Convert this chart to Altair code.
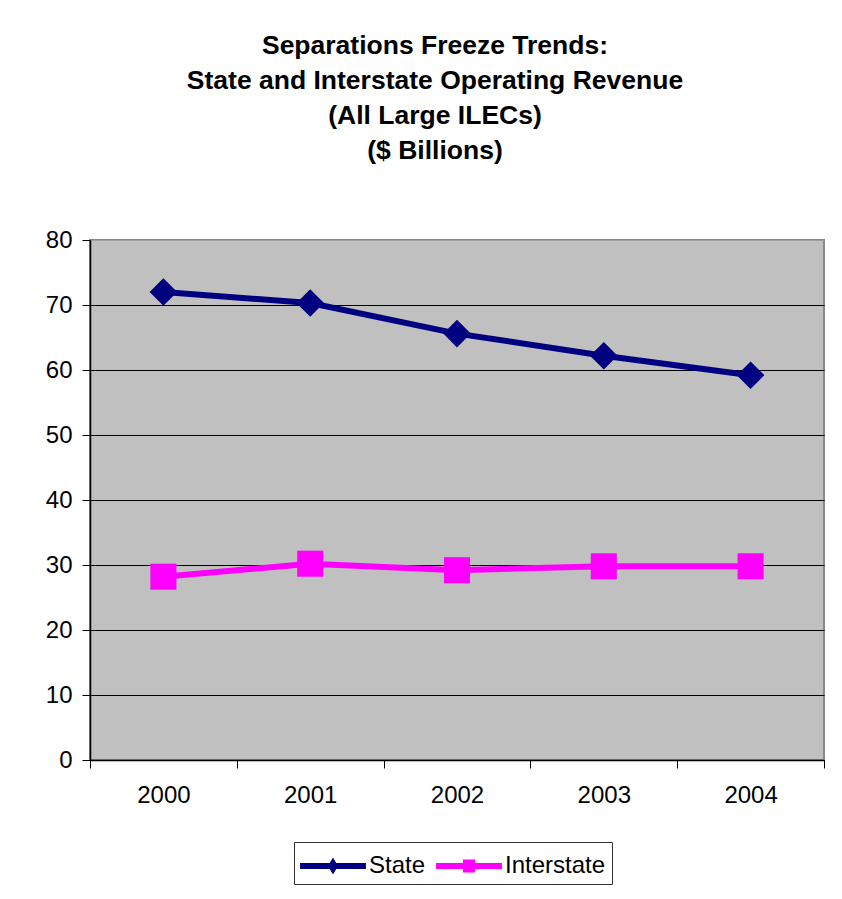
import altair as alt
import pandas as pd

years = ["2000", "2001", "2002", "2003", "2004"]
state_values = [72.0, 70.3, 65.6, 62.2, 59.2]
interstate_values = [28.2, 30.2, 29.2, 29.8, 29.8]
series_names = ["State", "Interstate"]
series_colors = ["#000080", "#FF00FF"]
series_shapes = ["diamond", "square"]
series_sizes = [760, 680]
y_ticks = [0, 10, 20, 30, 40, 50, 60, 70, 80]
title_lines = [
    "Separations Freeze Trends:",
    "State and Interstate Operating Revenue",
    "(All Large ILECs)",
    "($ Billions)",
]

df = pd.DataFrame({
    "Year": years * 2,
    "Value": state_values + interstate_values,
    "Series": ["State"] * len(years) + ["Interstate"] * len(years),
})
df["Marker"] = df["Series"]

# data-derived (alphabetical) order for the legend-less scales
sorted_names = sorted(series_names)
color_of = dict(zip(series_names, series_colors))
shape_of = dict(zip(series_names, series_shapes))
size_of = dict(zip(series_names, series_sizes))

FONT = "Liberation Sans"

# legend glyphs: a thick line with the series marker in its middle
state_path = ("M-1.83,-0.17 L1.83,-0.17 L1.83,0.17 L-1.83,0.17 Z "
              "M0,-0.47 L0.28,0 L0,0.47 L-0.28,0 Z")
inter_path = ("M-1.83,-0.17 L1.83,-0.17 L1.83,0.17 L-1.83,0.17 Z "
              "M-0.34,-0.36 L0.34,-0.36 L0.34,0.36 L-0.34,0.36 Z")

x_enc = alt.X(
    "Year:O",
    title=None,
    sort=years,
    bandPosition=0.5,
    scale=alt.Scale(type="band", paddingInner=0, paddingOuter=0),
    axis=alt.Axis(
        labelAngle=0, tickBand="extent", grid=False,
        domainColor="#000000", domainWidth=1.5,
        tickColor="#000000", tickSize=8, tickWidth=1,
        labelFont=FONT, labelFontSize=24, labelColor="#000000",
        labelPadding=15,
    ),
)
y_enc = alt.Y(
    "Value:Q",
    title=None,
    scale=alt.Scale(domain=[0, 80], nice=False, zero=True),
    axis=alt.Axis(
        values=y_ticks, grid=True,
        gridColor={"condition": {"test": "datum.value == 80", "value": "#a0a0a0"}, "value": "#000000"},
        gridWidth=1,
        domainColor="#000000", domainWidth=1.5,
        tickColor="#000000", tickSize=8, tickWidth=1,
        labelFont=FONT, labelFontSize=24, labelColor="#000000",
        labelPadding=10,
    ),
)

lines = alt.Chart(df).mark_line(strokeWidth=6).encode(
    x=x_enc, y=y_enc,
    stroke=alt.Stroke("Series:N", scale=alt.Scale(range=[color_of[n] for n in sorted_names]), legend=None),
)

points = alt.Chart(df).mark_point(filled=True, opacity=1, strokeWidth=0).encode(
    x=x_enc, y=y_enc,
    fill=alt.Fill(
        "Series:N",
        scale=alt.Scale(domain=series_names, range=series_colors),
        legend=alt.Legend(
            title=None, orient="none", direction="horizontal",
            legendX=204, legendY=602,
            symbolType={"expr": "datum.value === 'State' ? '" + state_path + "' : '" + inter_path + "'"},
            symbolSize=1296, symbolStrokeWidth=0, symbolOffset=15,
            labelFont=FONT, labelFontSize=24, labelColor="#000000",
            labelOffset=18, columnPadding=10, padding=6,
            strokeColor="#333333", fillColor="#FFFFFF",
        ),
    ),
    shape=alt.Shape("Marker:N", scale=alt.Scale(range=[shape_of[n] for n in sorted_names]), legend=None),
    size=alt.Size("Marker:N", scale=alt.Scale(range=[size_of[n] for n in sorted_names]), legend=None),
)

chart = alt.layer(lines, points).properties(
    width=734,
    height=520,
    autosize=alt.AutoSizeParams(type="none"),
    padding={"left": 82, "top": 232, "right": 10, "bottom": 145},
    background="#FFFFFF",
    title=alt.TitleParams(
        text=title_lines, font=FONT, fontSize=26.5, fontWeight="bold",
        color="#000000", anchor="middle", lineHeight=35, offset=64, dx=-22,
    ),
).configure_view(
    fill="#C0C0C0", stroke="#888888", strokeWidth=2,
)

chart.save("out.html", embed_options={"renderer": "svg", "actions": False})
